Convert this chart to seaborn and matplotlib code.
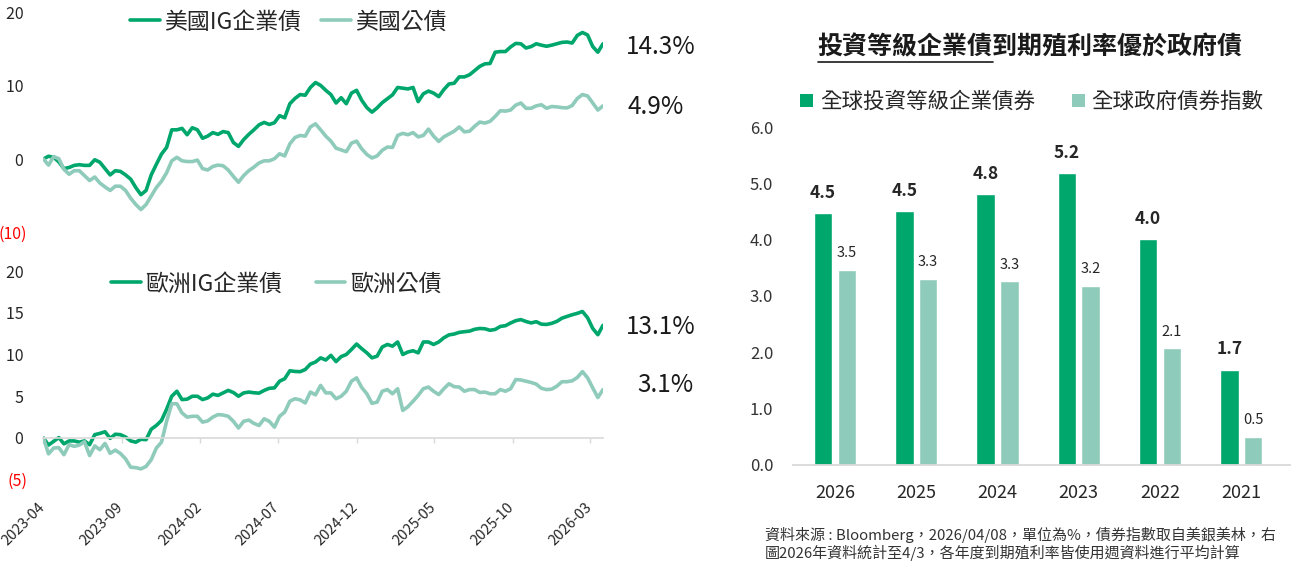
import numpy as np
import pandas as pd
import matplotlib
matplotlib.use("Agg")
import matplotlib.pyplot as plt
import matplotlib.dates as mdates
import matplotlib.transforms as mtransforms
from matplotlib.lines import Line2D
from matplotlib.patches import Patch
import seaborn as sns

# cumulative return (%), one reading every 10 days off the reference lines
DATES = pd.date_range("2023-04-01", periods=110, freq="10D")

US_IG = [0.0, 0.38, 0.23, -0.39, -1.31, -1.16, -0.87, -0.78, -0.87, -0.87,
         -0.10, -0.44, -1.31, -2.17, -1.60, -1.69, -2.17, -2.75, -3.90, -4.87,
         -4.29, -2.17, -0.73, 0.67, 1.58, 3.98, 3.98, 4.18, 3.31, 4.27,
         3.98, 2.83, 3.12, 3.60, 3.36, 3.74, 3.60, 2.25, 1.72, 2.64,
         3.36, 3.98, 4.66, 4.99, 4.71, 4.95, 5.91, 5.62, 7.54, 8.26,
         8.79, 8.70, 9.76, 10.43, 10.04, 9.37, 8.79, 7.64, 8.36, 7.54,
         8.99, 9.37, 8.02, 7.01, 6.39, 6.97, 7.69, 8.22, 8.75, 9.76,
         9.66, 9.56, 9.76, 7.83, 8.89, 9.27, 8.99, 8.51, 9.47, 10.24,
         10.33, 11.20, 11.20, 11.49, 12.06, 12.64, 12.98, 13.03, 14.57, 14.66,
         14.66, 15.29, 15.77, 15.72, 15.14, 15.34, 15.72, 15.53, 15.38, 15.53,
         15.72, 15.91, 15.96, 15.82, 16.87, 17.26, 16.92, 15.34, 14.57, 15.72]
US_GOV = [0.0, -0.83, 0.33, 0.04, -1.40, -2.08, -1.60, -1.60, -2.27, -2.94,
          -2.46, -3.28, -3.81, -4.29, -3.71, -3.71, -4.29, -5.35, -6.21, -6.89,
          -6.21, -5.06, -3.90, -3.04, -1.88, -0.25, 0.23, -0.25, -0.35, -0.35,
          -0.15, -1.31, -1.50, -1.02, -0.83, -0.92, -1.50, -2.37, -3.17, -2.27,
          -1.60, -1.11, -0.54, -0.25, -0.25, 0.04, 0.71, 0.42, 2.06, 2.93,
          3.21, 3.12, 4.37, 4.80, 3.98, 3.12, 2.44, 1.48, 1.24, 1.00,
          2.16, 2.44, 1.39, 0.62, 0.14, 0.42, 1.19, 1.63, 1.58, 3.21,
          3.50, 3.31, 3.60, 3.02, 3.21, 4.08, 3.12, 2.40, 3.02, 3.41,
          3.79, 4.37, 3.70, 3.79, 4.47, 5.04, 4.90, 5.14, 5.81, 6.58,
          6.53, 6.68, 7.35, 7.64, 6.92, 6.92, 7.25, 7.40, 6.92, 7.16,
          7.11, 7.01, 6.97, 7.30, 8.26, 8.79, 8.60, 7.64, 6.68, 7.25]
EU_IG = [0.0, -0.84, -0.4, 0.05, -0.7, -0.35, -0.35, -0.5, -0.35, -0.8,
         0.4, 0.55, 0.75, -0.04, 0.45, 0.4, 0.12, -0.35, -0.5, -0.15,
         -0.2, 1.05, 1.5, 2.1, 3.45, 5.0, 5.6, 4.6, 4.65, 5.0,
         5.0, 4.6, 4.8, 5.25, 5.1, 5.4, 5.7, 5.45, 5.0, 5.4,
         5.5, 5.42, 5.37, 5.7, 5.95, 6.0, 6.8, 7.1, 8.05, 7.97,
         7.94, 8.2, 8.85, 9.1, 9.6, 9.34, 9.9, 9.15, 9.75, 10.0,
         10.6, 11.25, 10.7, 10.2, 9.6, 9.8, 10.9, 11.2, 11.0, 11.5,
         10.0, 10.3, 10.45, 10.2, 11.5, 11.5, 11.2, 11.5, 12.0, 12.35,
         12.45, 12.65, 12.73, 12.8, 13.02, 13.12, 13.08, 12.9, 13.0, 13.36,
         13.45, 13.77, 14.05, 14.18, 13.95, 13.78, 13.93, 13.63, 13.6, 13.73,
         13.96, 14.35, 14.56, 14.76, 14.93, 15.15, 14.4, 13.12, 12.37, 13.5]
EU_GOV = [0.0, -1.9, -1.2, -1.15, -2.0, -0.8, -1.0, -0.85, -0.45, -2.1,
          -0.95, -1.4, -0.65, -1.83, -1.45, -1.85, -2.5, -3.5, -3.55, -3.7,
          -3.4, -2.6, -1.2, -0.5, 2.0, 4.1, 4.1, 3.0, 2.5, 2.6,
          2.6, 1.9, 2.05, 2.5, 2.8, 2.75, 2.6, 2.0, 1.2, 2.0,
          2.15, 1.75, 1.5, 2.3, 2.0, 1.3, 2.6, 3.1, 4.4, 4.7,
          4.57, 4.2, 5.5, 5.17, 6.3, 5.4, 5.4, 4.7, 5.0, 5.6,
          6.8, 7.2, 6.05, 5.3, 4.15, 4.3, 5.6, 5.8, 5.3, 5.9,
          3.3, 3.75, 4.4, 5.1, 5.9, 6.1, 5.6, 5.2, 5.9, 6.5,
          6.15, 6.1, 5.6, 5.8, 5.8, 5.45, 5.5, 5.3, 5.3, 5.8,
          5.6, 5.9, 7.0, 6.95, 6.8, 6.65, 6.45, 5.95, 5.8, 5.85,
          6.2, 6.74, 6.74, 6.85, 7.25, 7.95, 7.2, 6.0, 4.85, 5.8]

US_NAMES = ["美國IG企業債", "美國公債"]
EU_NAMES = ["歐洲IG企業債", "歐洲公債"]
US_END = ["14.3%", "4.9%"]
EU_END = ["13.1%", "3.1%"]
DATE_TICKS = pd.date_range("2023-04-01", "2026-03-01", freq="5MS")

# yield to maturity by year (%)
YEARS = ["2026", "2025", "2024", "2023", "2022", "2021"]
IG_YIELD = [4.47, 4.52, 4.81, 5.19, 4.01, 1.69]
GOV_YIELD = [3.47, 3.31, 3.26, 3.18, 2.07, 0.49]
BAR_NAMES = ["全球投資等級企業債券", "全球政府債券指數"]

TITLE = "投資等級企業債到期殖利率優於政府債"
NOTE_1 = "資料來源 : Bloomberg，2026/04/08，單位為%，債券指數取自美銀美林，右"
NOTE_2 = "圖2026年資料統計至4/3，各年度到期殖利率皆使用週資料進行平均計算"

DARK = "#00A76D"
LIGHT = "#8FCBBA"
TXT = "#262626"

sns.set_theme(style="white")
plt.rcParams["font.family"] = ["Noto Sans CJK TC", "DejaVu Sans"]

W, H = 1291, 564
fig = plt.figure(figsize=(W / 100, H / 100), dpi=100)


def fx(px):
    return px / W


def fy(py):
    return 1 - py / H


def line_panel(ax, ig, gov, names, yticks):
    df = pd.DataFrame({
        "date": list(DATES) * 2,
        "value": ig + gov,
        "series": [names[0]] * len(ig) + [names[1]] * len(gov),
    })
    sns.lineplot(data=df, x="date", y="value", hue="series", hue_order=names,
                 palette=[DARK, LIGHT], linewidth=2.6, estimator=None,
                 legend=False, ax=ax)
    ax.set(xlabel="", ylabel="")
    ax.set_xlim(DATES[0].to_pydatetime(), DATES[-1].to_pydatetime())
    ax.set_ylim(yticks[0], yticks[-1])
    ax.set_yticks(yticks)
    ax.set_yticklabels([f"({abs(v)})" if v < 0 else f"{v} " for v in yticks])
    for lbl, v in zip(ax.get_yticklabels(), yticks):
        lbl.set_color("red" if v < 0 else TXT)
    ax.tick_params(axis="y", length=0, pad=11.5, labelsize=11.5)
    for s in ax.spines.values():
        s.set_visible(False)


# top: US
ax_us = fig.add_axes([fx(43.4), fy(232.3), fx(559.6), (232.3 - 12.4) / H])
line_panel(ax_us, US_IG, US_GOV, US_NAMES, [-10, 0, 10, 20])
ax_us.xaxis.set_visible(False)

# bottom: Europe
ax_eu = fig.add_axes([fx(43.4), fy(479.75), fx(559.6), (479.75 - 271) / H])
line_panel(ax_eu, EU_IG, EU_GOV, EU_NAMES, [-5, 0, 5, 10, 15, 20])
ax_eu.spines["bottom"].set_visible(True)
ax_eu.spines["bottom"].set_position(("data", 0))
ax_eu.spines["bottom"].set_color("#d9d9d9")
ax_eu.spines["bottom"].set_linewidth(1.2)
ax_eu.set_xticks(list(DATE_TICKS.to_pydatetime()))
ax_eu.xaxis.set_major_formatter(mdates.DateFormatter("%Y-%m"))
ax_eu.tick_params(axis="x", bottom=True, length=3.6, width=1.0, color="#d9d9d9",
                  direction="out", pad=41, labelsize=10.5, labelcolor=TXT)
shift = mtransforms.ScaledTranslation(3 / 72, 0, fig.dpi_scale_trans)
for lbl in ax_eu.get_xticklabels():
    lbl.set_rotation(45)
    lbl.set_ha("right")
    lbl.set_transform(lbl.get_transform() + shift)


def line_legend(ax, names, x0, y0, colsp):
    handles = [Line2D([], [], color=c, lw=2.6) for c in (DARK, LIGHT)]
    leg = ax.legend(handles, names, loc="center left", bbox_to_anchor=(fx(x0), fy(y0)),
                    bbox_transform=fig.transFigure, ncol=2, frameon=False,
                    fontsize=16.5, handlelength=1.3, handletextpad=0.2,
                    columnspacing=colsp, borderpad=0, borderaxespad=0)
    for t in leg.get_texts():
        t.set_color(TXT)


line_legend(ax_us, US_NAMES, 130, 22, 0.85)
line_legend(ax_eu, EU_NAMES, 111, 284, 1.45)

for txt, x, y in zip(US_END + EU_END, [626, 628, 626, 637], [47, 106.5, 327, 385]):
    fig.text(fx(x), fy(y), txt, ha="left", va="center", fontsize=17.5, color="#1a1a1a")

# right: yields by year
ax_bar = fig.add_axes([fx(792.7), fy(464.5), fx(497.3), (464.5 - 127.5) / H])
bar_df = pd.DataFrame({
    "year": YEARS * 2,
    "value": IG_YIELD + GOV_YIELD,
    "series": [BAR_NAMES[0]] * len(YEARS) + [BAR_NAMES[1]] * len(YEARS),
})
sns.barplot(data=bar_df, x="year", y="value", hue="series", order=YEARS,
            hue_order=BAR_NAMES, palette=[DARK, LIGHT], saturation=1,
            width=0.587, gap=0.223, legend=False, ax=ax_bar)
ax_bar.bar_label(ax_bar.containers[0], fmt="{:.1f}", padding=8, fontsize=12.5,
                 fontweight="bold", color=TXT)
ax_bar.bar_label(ax_bar.containers[1], fmt="{:.1f}", padding=7, fontsize=10.5,
                 color=TXT)
ax_bar.set(xlabel="", ylabel="")
ax_bar.set_xlim(-0.52, 5.6)
ax_bar.set_ylim(0, 6)
ax_bar.set_yticks(np.arange(0, 7, 1))
ax_bar.set_yticklabels([f"{v:.1f}" for v in np.arange(0, 7, 1)])
ax_bar.tick_params(axis="y", length=0, pad=14, labelsize=12, labelcolor="#333333")
ax_bar.tick_params(axis="x", length=0, pad=14, labelsize=13, labelcolor=TXT)
for lbl in ax_bar.get_xticklabels():
    lbl.set_fontweight("medium")
for name, s in ax_bar.spines.items():
    s.set_visible(name == "bottom")
ax_bar.spines["bottom"].set_color("#d9d9d9")
ax_bar.spines["bottom"].set_linewidth(1.3)

bar_handles = [Patch(facecolor=c, edgecolor="none") for c in (DARK, LIGHT)]
leg = ax_bar.legend(bar_handles, BAR_NAMES, loc="center left",
                    bbox_to_anchor=(fx(800), fy(102)), bbox_transform=fig.transFigure,
                    ncol=2, frameon=False, fontsize=15.5, handlelength=0.6,
                    handleheight=0.6, handletextpad=0.33, columnspacing=1.7,
                    borderpad=0, borderaxespad=0)
for t in leg.get_texts():
    t.set_color(TXT)

title = fig.text(fx(1030), fy(47), TITLE, ha="center", va="center", fontsize=18,
                 fontweight="bold", color="#1a1a1a")
renderer = fig.canvas.get_renderer()
tb = title.get_window_extent(renderer)
probe = fig.text(0, 0, TITLE[:7], fontsize=18, fontweight="bold")
pw = probe.get_window_extent(renderer).width
probe.remove()
fig.add_artist(Line2D([tb.x0 / W, (tb.x0 + pw) / W], [fy(62.3), fy(62.3)],
                      transform=fig.transFigure, color="#1a1a1a", lw=1.2))

fig.text(fx(765), fy(535), NOTE_1, ha="left", va="center", fontsize=10.8, color="#333333")
fig.text(fx(765), fy(553), NOTE_2, ha="left", va="center", fontsize=10.8, color="#333333")

fig.savefig("out.png", dpi=100)
